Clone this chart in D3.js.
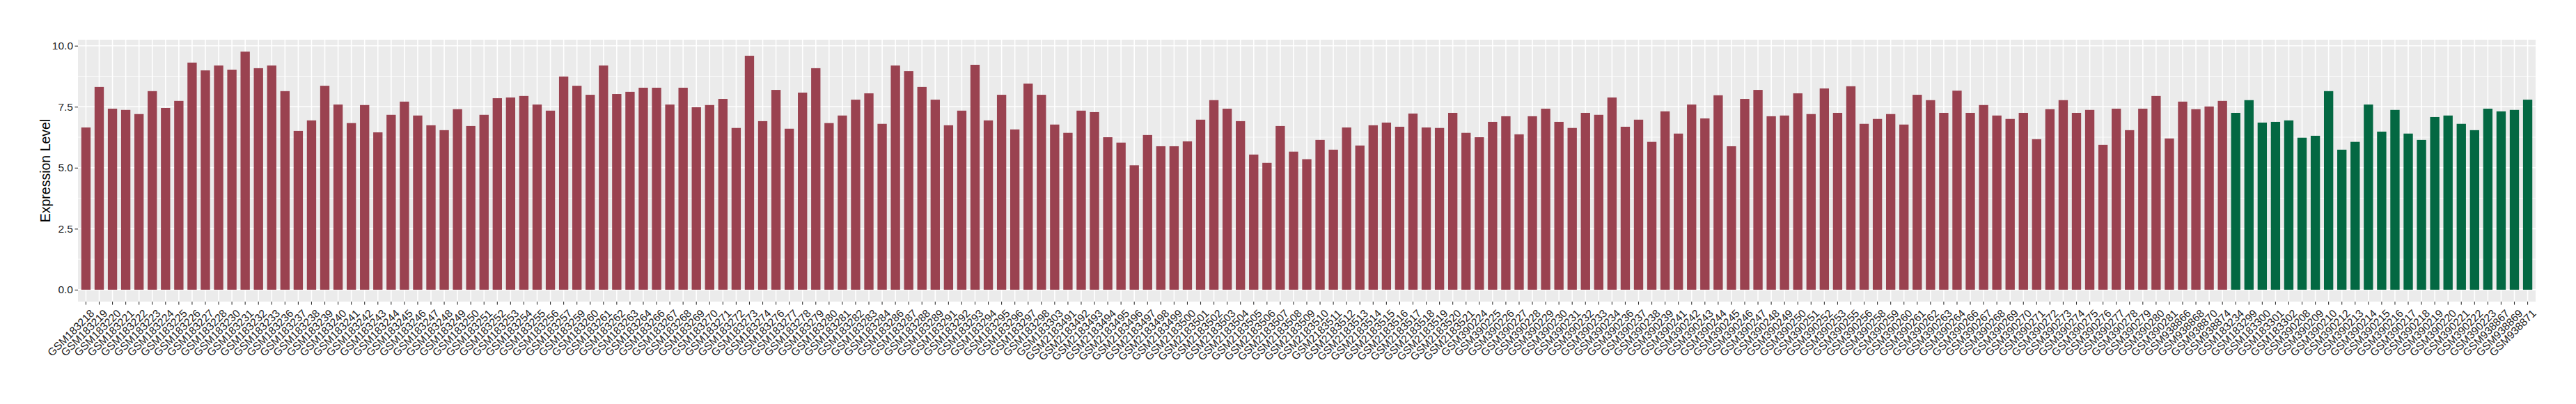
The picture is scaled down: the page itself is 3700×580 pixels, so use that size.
<!DOCTYPE html>
<html>
<head>
<meta charset="utf-8">
<script src="https://cdn.jsdelivr.net/npm/d3@7"></script>
<style>
  html, body { margin: 0; padding: 0; background: #ffffff; }
  svg { display: block; font-family: "Liberation Sans", Arial, Helvetica, sans-serif; }
</style>
</head>
<body>
<svg id="chart" width="3700" height="580"></svg>
<script>
// ---- data ----
const groupALabels = [
  "GSM183218","GSM183219","GSM183220","GSM183221","GSM183222","GSM183223","GSM183224","GSM183225","GSM183226","GSM183227",
  "GSM183228","GSM183230","GSM183231","GSM183232","GSM183233","GSM183236","GSM183237","GSM183238","GSM183239","GSM183240",
  "GSM183241","GSM183242","GSM183243","GSM183244","GSM183245","GSM183246","GSM183247","GSM183248","GSM183249","GSM183250",
  "GSM183251","GSM183252","GSM183253","GSM183254","GSM183255","GSM183256","GSM183257","GSM183259","GSM183260","GSM183261",
  "GSM183262","GSM183263","GSM183264","GSM183266","GSM183267","GSM183268","GSM183269","GSM183270","GSM183271","GSM183272",
  "GSM183273","GSM183274","GSM183276","GSM183277","GSM183278","GSM183279","GSM183280","GSM183281","GSM183282","GSM183283",
  "GSM183284","GSM183286","GSM183287","GSM183288","GSM183289","GSM183291","GSM183292","GSM183293","GSM183294","GSM183295",
  "GSM183296","GSM183297","GSM183298","GSM183303",
  "GSM2183491","GSM2183492","GSM2183493","GSM2183494","GSM2183495","GSM2183496","GSM2183497","GSM2183498","GSM2183499","GSM2183500",
  "GSM2183501","GSM2183502","GSM2183503","GSM2183504","GSM2183505","GSM2183506","GSM2183507","GSM2183508","GSM2183509","GSM2183510",
  "GSM2183511","GSM2183512","GSM2183513","GSM2183514","GSM2183515","GSM2183516","GSM2183517","GSM2183518","GSM2183519","GSM2183520",
  "GSM2183521",
  "GSM390224","GSM390225","GSM390226","GSM390227","GSM390228","GSM390229","GSM390230","GSM390231","GSM390232","GSM390233",
  "GSM390234","GSM390236","GSM390237","GSM390238","GSM390239","GSM390241","GSM390242","GSM390243","GSM390244","GSM390245",
  "GSM390246","GSM390247","GSM390248","GSM390249","GSM390250","GSM390251","GSM390252","GSM390253","GSM390255","GSM390256",
  "GSM390258","GSM390259","GSM390260","GSM390261","GSM390262","GSM390263","GSM390264","GSM390266","GSM390267","GSM390268",
  "GSM390269","GSM390270","GSM390271","GSM390272","GSM390273","GSM390274","GSM390275","GSM390276","GSM390277","GSM390278",
  "GSM390279","GSM390280","GSM390281",
  "GSM938866","GSM938868","GSM938870","GSM938874"
];
const groupAValues = [
  6.65,8.31,7.42,7.37,7.20,8.14,7.45,7.74,9.31,8.99,
  9.19,9.02,9.76,9.08,9.19,8.14,6.51,6.94,8.36,7.59,
  6.83,7.57,6.45,7.17,7.71,7.14,6.74,6.54,7.40,6.71,
  7.17,7.85,7.88,7.94,7.59,7.34,8.74,8.36,7.99,9.19,
  8.02,8.11,8.28,8.28,7.59,8.28,7.48,7.57,7.82,6.63,
  9.59,6.91,8.19,6.60,8.08,9.08,6.83,7.14,7.79,8.05,
  6.80,9.19,8.96,8.31,7.79,6.74,7.34,9.22,6.94,7.99,
  6.57,8.45,7.99,6.77,
  6.43,7.34,7.28,6.25,6.03,5.10,6.34,5.88,5.88,6.08,
  6.97,7.77,7.42,6.91,5.54,5.20,6.71,5.66,5.35,6.14,
  5.74,6.65,5.91,6.74,6.85,6.68,7.22,6.65,6.63,7.25,
  6.43,
  6.25,6.88,7.11,6.37,7.11,7.42,6.88,6.63,7.25,7.17,
  7.88,6.68,6.97,6.06,7.31,6.40,7.59,7.02,7.97,5.88,
  7.82,8.19,7.11,7.14,8.05,7.20,8.25,7.25,8.34,6.80,
  7.00,7.20,6.77,7.99,7.77,7.25,8.16,7.25,7.57,7.14,
  7.00,7.25,6.17,7.40,7.77,7.25,7.37,5.94,7.42,6.54,
  7.42,7.94,6.20,
  7.71,7.40,7.51,7.74
];
const groupBLabels = [
  "GSM183234","GSM183299","GSM183300","GSM183301","GSM183302","GSM390208","GSM390209","GSM390210","GSM390212","GSM390213",
  "GSM390214","GSM390215","GSM390216","GSM390217","GSM390218","GSM390219","GSM390220","GSM390221","GSM390222","GSM390223",
  "GSM938867","GSM938869","GSM938871"
];
const groupBValues = [
  7.25,7.77,6.85,6.88,6.94,6.23,6.31,8.14,5.74,6.06,
  7.59,6.48,7.37,6.40,6.14,7.08,7.14,6.80,6.54,7.42,
  7.31,7.37,7.79
];
const yTickValues = [0, 2.5, 5, 7.5, 10];
const yMinorValues = [1.25, 3.75, 6.25, 8.75];
const yTitle = "Expression Level";
const groupColors = ["#9A4250", "#036842"];

// ---- build rows ----
const rows = [];
groupALabels.forEach((l, i) => rows.push({ label: l, value: groupAValues[i], group: 0 }));
groupBLabels.forEach((l, i) => rows.push({ label: l, value: groupBValues[i], group: 1 }));

// ---- layout ----
const W = 3700, H = 580;
const margin = { left: 112, right: 58, top: 57, bottom: 147 };
const iw = W - margin.left - margin.right;
const ih = H - margin.top - margin.bottom;

const svg = d3.select("#chart");
svg.append("rect").attr("width", W).attr("height", H).attr("fill", "#ffffff");
const g = svg.append("g").attr("transform", `translate(${margin.left},${margin.top})`);

const x = d3.scaleBand()
  .domain(rows.map(d => d.label))
  .range([0, iw])
  .paddingInner(0.3)
  .paddingOuter(0.25);

const ymax = d3.max(rows, d => d.value);
const y = d3.scaleLinear()
  .domain([-0.05 * ymax, ymax * 1.05])
  .range([ih, 0]);

// panel
g.append("rect").attr("width", iw).attr("height", ih).attr("fill", "#EBEBEB");

// minor horizontal grid
g.selectAll(".ymin").data(yMinorValues).join("line")
  .attr("x1", 0).attr("x2", iw)
  .attr("y1", d => y(d)).attr("y2", d => y(d))
  .attr("stroke", "#ffffff").attr("stroke-width", 0.8);
// major horizontal grid
g.selectAll(".ymaj").data(yTickValues).join("line")
  .attr("x1", 0).attr("x2", iw)
  .attr("y1", d => y(d)).attr("y2", d => y(d))
  .attr("stroke", "#ffffff").attr("stroke-width", 1.6);
// vertical grid
g.selectAll(".xmaj").data(rows).join("line")
  .attr("x1", d => x(d.label) + x.bandwidth() / 2).attr("x2", d => x(d.label) + x.bandwidth() / 2)
  .attr("y1", 0).attr("y2", ih)
  .attr("stroke", "#ffffff").attr("stroke-width", 1.6);

// bars
g.selectAll(".bar").data(rows).join("rect")
  .attr("x", d => x(d.label))
  .attr("width", x.bandwidth())
  .attr("y", d => y(d.value))
  .attr("height", d => y(0) - y(d.value))
  .attr("fill", d => groupColors[d.group]);

// y axis
const yAxis = g.append("g").call(
  d3.axisLeft(y).tickValues(yTickValues).tickFormat(d3.format(".1f")).tickSize(4.5).tickPadding(2.5)
);
yAxis.select(".domain").remove();
yAxis.selectAll(".tick line").attr("stroke", "#333333").attr("stroke-width", 1.1);
yAxis.selectAll(".tick text")
  .attr("fill", "#222222")
  .style("font-size", "15.5px")
  .style("font-family", "'Liberation Sans', Arial, sans-serif");

// x axis
const xAxis = g.append("g").attr("transform", `translate(0,${ih})`).call(
  d3.axisBottom(x).tickSize(4.5).tickPadding(3)
);
xAxis.select(".domain").remove();
xAxis.selectAll(".tick line").attr("stroke", "#333333").attr("stroke-width", 1.1);
xAxis.selectAll(".tick text")
  .attr("fill", "#222222")
  .style("font-size", "15.5px")
  .style("font-family", "'Liberation Sans', Arial, sans-serif")
  .attr("text-anchor", "end")
  .attr("dy", null)
  .attr("y", 0)
  .attr("transform", "translate(5,10) rotate(-45)")
  .attr("dominant-baseline", "hanging");

// y title
svg.append("text")
  .attr("transform", `translate(72,${margin.top + ih / 2}) rotate(-90)`)
  .attr("text-anchor", "middle")
  .attr("fill", "#000000")
  .style("font-size", "19.5px")
  .style("font-family", "'Liberation Sans', Arial, sans-serif")
  .text(yTitle);
</script>
</body>
</html>
